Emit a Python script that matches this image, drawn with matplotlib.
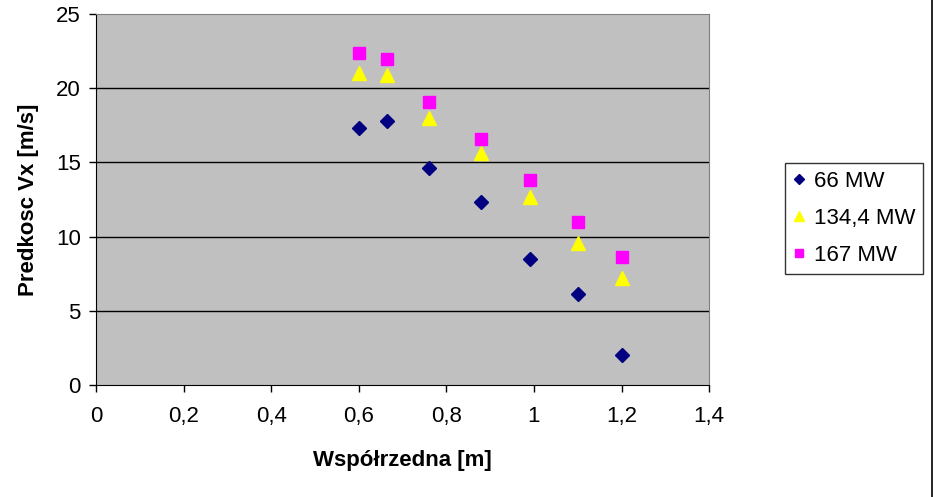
import matplotlib.pyplot as plt
from matplotlib.lines import Line2D

plt.rcParams['font.family'] = ['Liberation Sans', 'DejaVu Sans']

# wspolrzedna [m] i predkosc Vx [m/s] dla trzech mocy
x = [0.6, 0.665, 0.76, 0.88, 0.99, 1.1, 1.2]
v_66 = [17.3, 17.8, 14.6, 12.3, 8.5, 6.15, 2.0]
v_134 = [21.0, 20.9, 18.0, 15.6, 12.7, 9.6, 7.2]
v_167 = [22.4, 22.0, 19.1, 16.6, 13.8, 11.0, 8.6]
labels = ['66 MW', '134,4 MW', '167 MW']

fig = plt.figure(figsize=(9.33, 4.97), dpi=100)
ax = fig.add_axes([0.103, 0.2254, 0.657, 0.7464])
ax.set_facecolor('#c0c0c0')

ax.plot(x, v_66, 'D', color='#000080', ms=7.5, label=labels[0], zorder=3)
ax.plot(x, v_134, '^', color='#ffff00', ms=9.5, label=labels[1], zorder=3)
ax.plot(x, v_167, 's', color='#ff00ff', ms=8.5, label=labels[2], zorder=3)

ax.set_xlim(0, 1.4)
ax.set_ylim(0, 25)
ax.set_xticks([0, 0.2, 0.4, 0.6, 0.8, 1.0, 1.2, 1.4])
ax.set_xticklabels(['0', '0,2', '0,4', '0,6', '0,8', '1', '1,2', '1,4'])
ax.set_yticks([0, 5, 10, 15, 20, 25])
for yv in [5, 10, 15, 20]:
    ax.axhline(yv, color='black', lw=1, zorder=1)

for side in ['top', 'right']:
    ax.spines[side].set_color('#808080')
for side in ['left', 'bottom']:
    ax.spines[side].set_color('black')
ax.tick_params(direction='out', length=5, width=1, labelsize=16, pad=6)
ax.tick_params(axis='x', pad=10)

ax.set_xlabel('Współrzedna [m]', fontsize=16, fontweight='bold', labelpad=17)
ax.set_ylabel('Predkosc Vx [m/s]', fontsize=16, fontweight='bold', labelpad=12)

leg = fig.legend(loc='center left', bbox_to_anchor=(0.841, 0.56), fontsize=16,
                 frameon=True, fancybox=False, edgecolor='black', markerscale=0.7,
                 handlelength=0.6, handletextpad=0.35, labelspacing=0.72,
                 borderpad=0.35, borderaxespad=0)
leg.get_frame().set_linewidth(1)

# prawa krawedz obszaru wykresu
fig.add_artist(Line2D([0.9985, 0.9985], [0, 1], color='black', lw=1.2,
                      transform=fig.transFigure))

fig.savefig('out.png', dpi=100)
